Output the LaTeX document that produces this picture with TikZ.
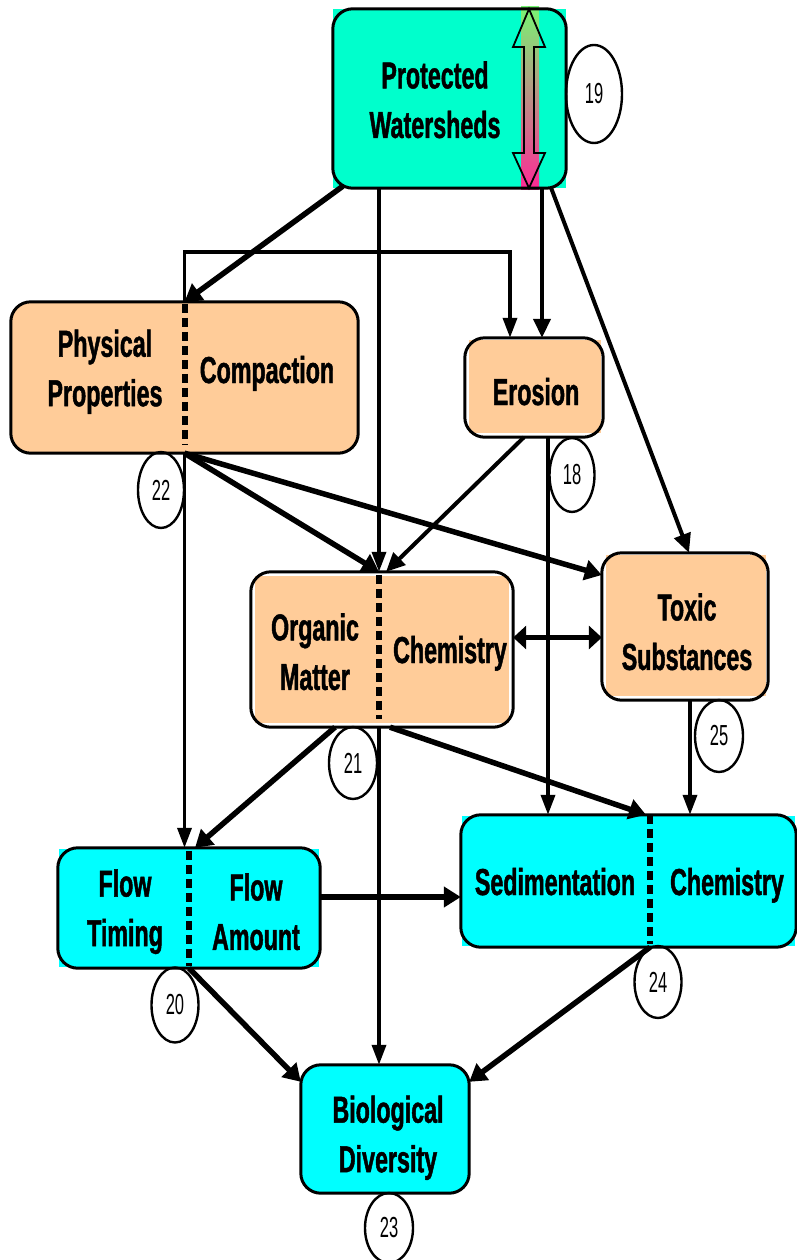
\documentclass[tikz,border=0pt]{standalone}
\usepackage{fontspec}
\setmainfont{Liberation Sans}[FakeStretch=0.62]
\newfontfamily\lblfont{Liberation Sans Bold}[FakeStretch=0.62, FakeBold=1.2]
\newfontfamily\numfont{Liberation Sans}[FakeStretch=0.57]
\usetikzlibrary{arrows.meta,shapes.geometric}
\definecolor{aqua}{RGB}{0,255,204}
\definecolor{peach}{RGB}{255,204,153}
\definecolor{cyanbox}{RGB}{0,255,255}
\definecolor{gradtop}{RGB}{120,245,115}
\definecolor{gradmid}{RGB}{200,170,130}
\definecolor{gradbot}{RGB}{255,40,150}

\begin{document}
\begin{tikzpicture}[x=1pt,y=-1pt,
  frame/.style={rectangle, inner sep=0pt, draw=none},
  outline/.style={draw=black, line width=3pt, rounded corners=20pt},
  divider/.style={line width=6pt, dash pattern=on 9pt off 5pt},
  lbl/.style={inner sep=0pt, align=center, font=\lblfont\fontsize{37.5}{49.5}\selectfont},
  num/.style={ellipse, draw, line width=2.4pt, inner sep=0pt, font=\numfont\fontsize{29}{30}\selectfont},
  arrthin/.style={line width=3.6pt, -{Triangle[length=20pt,width=14pt]}},
  arrmid/.style={line width=4pt, -{Triangle[length=19pt,width=17pt]}},
  arrbold/.style={line width=5.5pt, -{Triangle[length=17pt,width=20pt]}},
]
\useasboundingbox (0,0) rectangle (797,1260);

% box frames
\node[frame, minimum width=233pt, minimum height=179pt] (pw) at (449.5,98.5) {};
\node[frame, minimum width=347pt, minimum height=151pt] (pp) at (184.5,377.5) {};
\node[frame, minimum width=138pt, minimum height=99pt]  (er) at (534,387.5) {};
\node[frame, minimum width=262pt, minimum height=155pt] (om) at (382,649.5) {};
\node[frame, minimum width=166pt, minimum height=147pt] (tx) at (685,626.5) {};
\node[frame, minimum width=262pt, minimum height=120pt] (fl) at (189,908) {};
\node[frame, minimum width=335pt, minimum height=132pt] (sd) at (628.5,881) {};
\node[frame, minimum width=168pt, minimum height=128pt] (bd) at (385,1129) {};

% divider end points
\coordinate (omt) at ([xshift=-3pt]om.north);
\coordinate (omb) at ([xshift=-3pt]om.south);
\coordinate (sdt) at ([xshift=21.5pt]sd.north);
\coordinate (sdb) at ([xshift=21.5pt]sd.south);

% fills
\fill[aqua] (pw.south west) rectangle (pw.north east);
\fill[peach, rounded corners=20pt] (pp.south west) rectangle (pp.north east);
\fill[peach] ([shift={(4pt,4pt)}]er.south west) rectangle ([shift={(-2pt,-2pt)}]er.north east);
\fill[peach] ([shift={(4pt,4pt)}]om.south west) rectangle ([shift={(-4pt,-4pt)}]om.north east);
\fill[peach] ([shift={(4pt,4pt)}]tx.south west) rectangle ([shift={(-2pt,-2pt)}]tx.north east);
\fill[cyanbox] ([shift={(1pt,1pt)}]fl.south west) rectangle ([shift={(-1pt,-1pt)}]fl.north east);
\fill[cyanbox] ([shift={(1pt,1pt)}]sd.south west) rectangle ([shift={(-1pt,-1pt)}]sd.north east);
\fill[cyanbox, rounded corners=20pt] (bd.south west) rectangle (bd.north east);

% gradient band with double arrow
\shade[top color=gradtop, middle color=gradmid, bottom color=gradbot] (521,7) rectangle (539,190);
\draw[line width=1.8pt, line join=miter]
  (529,9) -- (545,47) -- (534,47) -- (534,153) -- (545,153) -- (529,188)
  -- (513,153) -- (524,153) -- (524,47) -- (513,47) -- cycle;

% outlines
\foreach \b in {pw,pp,er,om,tx,fl,sd,bd}
  \draw[outline] (\b.south west) rectangle (\b.north east);

% dashed dividers
\draw[divider] ([yshift=-2pt]pp.north) -- ([yshift=8pt]pp.south);
\draw[divider] ([yshift=-3pt]omt) -- ([yshift=8pt]omb);
\draw[divider] ([yshift=-3pt]fl.north) -- ([yshift=2pt]fl.south);
\draw[divider] (sdt) -- ([yshift=3pt]sdb);

% labels
\node[lbl] (tpw) at (435,99.75) {Protected\\Watersheds};
\node[lbl] (tpp) at (105,371.75) {Physical\\Properties};
\node[lbl, anchor=base] (tcp) at (267,383) {Compaction};
\node[lbl, anchor=base] (ter) at (536,405) {Erosion};
\node[lbl] (tom) at (315,651.75) {Organic\\Matter};
\node[lbl, anchor=base] (tch) at (450,663) {Chemistry};
\node[lbl] (ttx) at (687,631.75) {Toxic\\Substances};
\node[lbl] (tft) at (125,911.75) {Flow\\Timing};
\node[lbl] (tfa) at (256,911.75) {Flow\\Amount};
\node[lbl, anchor=base] (tsd) at (555,895) {Sedimentation};
\node[lbl, anchor=base] (tsc) at (727,895) {Chemistry};
\node[lbl] (tbd) at (388,1137.75) {Biological\\Diversity};

% connectors
\draw[arrbold] ([xshift=10pt,yshift=2pt]pw.south west) -- (pp.north);
\draw[arrthin] (pw.south -| omt) -- (omt);
\draw[arrmid] ([xshift=92.5pt]pw.south) -- ([xshift=8pt]er.north);
\draw[arrmid] ([xshift=-15pt]pw.south east) -- ([xshift=4pt]tx.north);
\draw[arrthin] (pp.north) -- ++(0,-50) -| ([xshift=-24pt]er.north);
\draw[arrbold] (pp.south) -- (omt);
\draw[arrbold] (pp.south) -- ([yshift=51.5pt]tx.west);
\draw[arrthin] (pp.south) -- (pp.south |- fl.north);
\draw[arrmid] ([xshift=-10pt]er.south) -- ([xshift=7pt]omt);
\coordinate (erb) at ([xshift=14pt]er.south);
\draw[arrthin] (erb) -- (erb |- sd.north);
\coordinate (txb) at ([xshift=5pt]tx.south);
\draw[arrthin] (txb) -- (txb |- sd.north);
\coordinate (ome) at ([yshift=12pt]om.east);
\draw[line width=5.5pt, {Triangle[length=13pt,width=23pt]}-{Triangle[length=13pt,width=23pt]}] (ome) -- (ome -| tx.west);
\draw[arrbold] ([xshift=-47pt]om.south) -- ([xshift=6pt]fl.north);
\draw[arrthin] (omb) -- (omb |- bd.north);
\draw[arrbold] ([xshift=8pt]om.south) -- ([xshift=-4pt]sdt);
\coordinate (fle) at ([yshift=11pt]fl.east);
\draw[arrbold] (fle) -- (fle -| sd.west);
\draw[arrbold] (fl.south) -- ([yshift=-17pt]bd.north west);
\draw[arrbold] (sdb) -- ([yshift=-17pt]bd.north east);

% numbered ellipses
\node[num, minimum width=56pt, minimum height=98pt] (n19) at (594,94) {19};
\node[num, minimum width=46pt, minimum height=76pt] (n22) at (161,490) {22};
\node[num, minimum width=45pt, minimum height=74pt] (n18) at (572,475) {18};
\node[num, minimum width=48pt, minimum height=72pt] (n21) at (353,763) {21};
\node[num, minimum width=48pt, minimum height=72pt] (n25) at (719,736) {25};
\node[num, minimum width=47pt, minimum height=75pt] (n20) at (175,1005) {20};
\node[num, minimum width=47pt, minimum height=72pt] (n24) at (658,982) {24};
\node[num, minimum width=48pt, minimum height=70pt] (n23) at (389,1228) {23};
\end{tikzpicture}
\end{document}
